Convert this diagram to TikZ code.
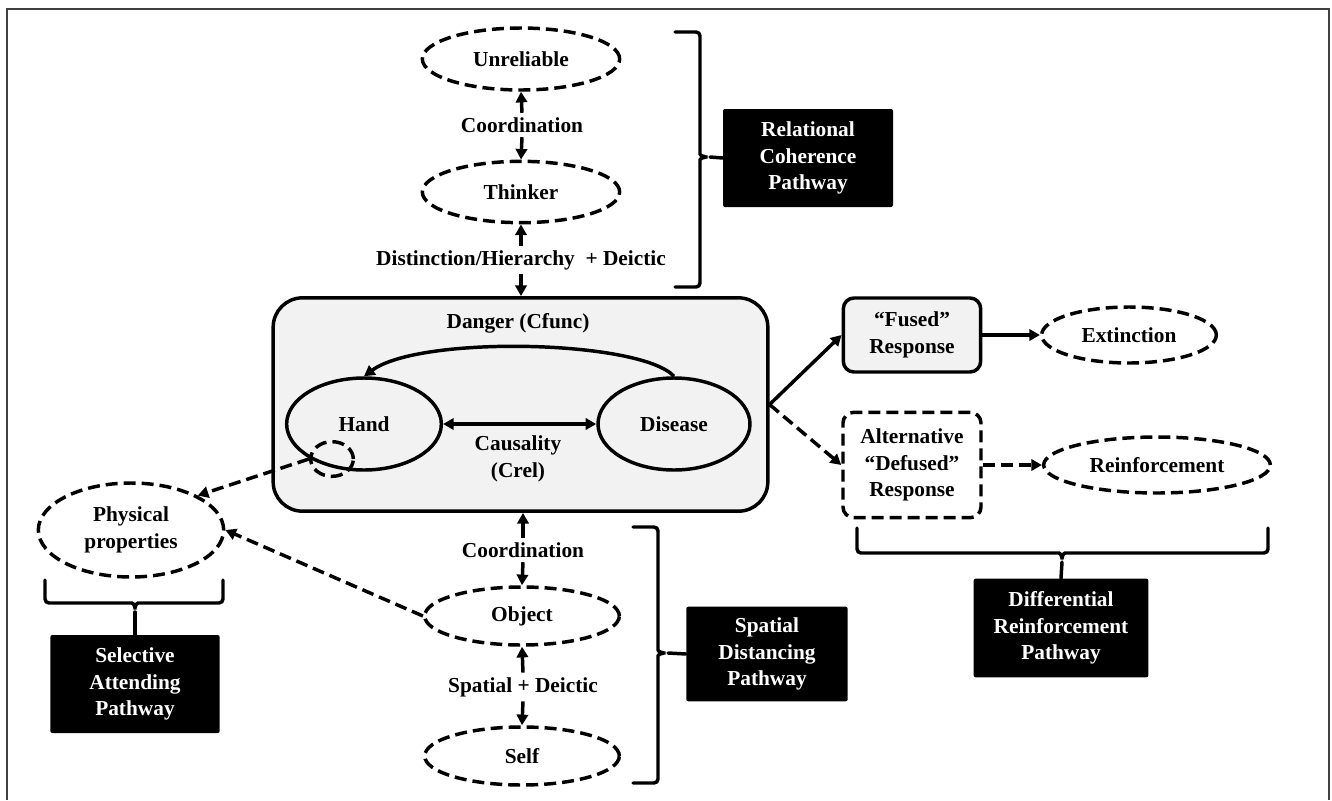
\documentclass[tikz,border=0pt]{standalone}
\usepackage{fontspec}
\setmainfont{Liberation Serif}
\usetikzlibrary{arrows.meta,shapes.geometric}
\definecolor{acikgri}{gray}{0.95}

\tikzset{
  kalin/.style={line width=2.6pt},
  kesikcizgi/.style={dash pattern=on 9pt off 4.5pt},
  elips/.style={ellipse, draw, kalin, inner sep=0pt, align=center},
  kesikelips/.style={elips, kesikcizgi},
  siyahkutu/.style={fill=black, text=white, rounded corners=1.5pt, inner sep=0pt, align=center},
  ok/.style={kalin, -{Triangle[length=8pt,width=8.5pt]}},
  kesikok/.style={ok, kesikcizgi},
  parantez/.style={kalin, rounded corners=3pt, line cap=round},
  cubuk/.style={kalin, line cap=round},
}

\begin{document}
\begin{tikzpicture}[x=0.75pt, y=-0.75pt, font=\fontsize{16}{20}\selectfont\bfseries]
  \useasboundingbox (0,0) rectangle (1332,800);
  % --- cerceve ---
  \draw[line width=1.5pt, black!75] (7,800) -- (7,9) -- (1329,9) -- (1329,800);

  % ---- 1) ust: iliskisel tutarlilik ----
  \node[kesikelips, minimum width=148pt, minimum height=46.5pt] (guvensiz) at (521,59) {Unreliable};
  \node (koord1) at (522,125) {Coordination};
  \node[kesikelips, minimum width=148pt, minimum height=46pt] (dusunen) at (521,192) {Thinker};
  \node (ayrim) at (521,260) {Distinction/Hierarchy\ \ + Deictic};
  \draw[ok] (koord1.north) -- (guvensiz.south);
  \draw[ok] (koord1.south) -- (dusunen.north);
  \draw[ok] (ayrim.north) -- (dusunen.south);

  \node[siyahkutu, minimum width=127.5pt, minimum height=73.5pt] (iliskisel) at (808,158)
    {Relational\\Coherence\\Pathway};
  \coordinate (ucust) at (710,157);
  \draw[parantez] (675,32) -- (700,32) -- (700,150)
    .. controls (700,155) and (703,157) .. (ucust)
    .. controls (703,157) and (700,159) .. (700,164) -- (700,287) -- (675,287);
  \draw[cubuk] (ucust) -- (iliskisel.west);

  % ---- 2) orta: tehlike kutusu ----
  \node[draw, kalin, fill=acikgri, rounded corners=22pt, minimum width=371pt, minimum height=160pt]
    (tehlike) at (520.5,404.5) {};
  \draw[ok] (ayrim.south) -- (ayrim.south |- tehlike.north);
  \node (tehlikeyazi) at (518,323) {Danger (Cfunc)};
  \node[elips, fill=acikgri, minimum width=116pt, minimum height=69pt] (el) at (364,424) {Hand};
  \node[elips, fill=acikgri, minimum width=114pt, minimum height=69pt] (hastalik) at (674,424) {Disease};
  \node[align=center] (nedensellik) at (518,459) {Causality\\(Crel)};
  \draw[kalin, {Triangle[length=8pt,width=8.5pt]}-{Triangle[length=8pt,width=8.5pt]}] (el.east) -- (hastalik.west);
  \draw[ok] (hastalik.north) .. controls (640,340) and (420,335) .. (el.north);
  \node[kesikelips, minimum width=32pt, minimum height=26pt] (kucuk) at (332,459) {};

  % ---- 3) sol: secici dikkat ----
  \node[kesikelips, minimum width=139pt, minimum height=70.5pt] (fiziksel) at (131,530)
    {Physical\\properties};
  \draw[kesikok] (kucuk.west) -- (fiziksel.north east);
  \node[siyahkutu, minimum width=127pt, minimum height=73.5pt] (secici) at (135,684)
    {Selective\\Attending\\Pathway};
  \coordinate (ucsol) at (135,612);
  \draw[parantez] (45,580) -- (45,603) -- (128,603)
    .. controls (133,603) and (135,605) .. (ucsol)
    .. controls (135,605) and (137,603) .. (142,603) -- (223,603) -- (223,580);
  \draw[cubuk] (ucsol) -- (secici.north);

  % ---- 4) alt: mekansal uzaklasma ----
  \node (koord2) at (523,550) {Coordination};
  \node[kesikelips, minimum width=146pt, minimum height=43.5pt] (nesne) at (522,616) {Object};
  \node (mekan) at (523,687) {Spatial + Deictic};
  \node[kesikelips, minimum width=146pt, minimum height=43.5pt] (benlik) at (522,756) {Self};
  \draw[ok] (koord2.north) -- (koord2.north |- tehlike.south);
  \draw[ok] (koord2.south) -- (nesne.north);
  \draw[ok] (mekan.north) -- (nesne.south);
  \draw[ok] (mekan.south) -- (benlik.north);
  \draw[kesikok] (nesne.west) -- (fiziksel.east);

  \node[siyahkutu, minimum width=121pt, minimum height=71pt] (mekansal) at (767,654)
    {Spatial\\Distancing\\Pathway};
  \coordinate (ucalt) at (668,653);
  \draw[parantez] (633,527) -- (658,527) -- (658,646)
    .. controls (658,651) and (661,653) .. (ucalt)
    .. controls (661,653) and (658,655) .. (658,660) -- (658,783) -- (633,783);
  \draw[cubuk] (ucalt) -- (mekansal.west);

  % ---- 5) sag: ayirici pekistirme ----
  \node[draw, kalin, fill=acikgri, rounded corners=8pt, minimum width=103pt, minimum height=55.5pt,
    align=center] (kaynasik) at (912,335) {``Fused''\\Response};
  \node[kesikelips, minimum width=131pt, minimum height=42pt] (sonme) at (1129,335) {Extinction};
  \node[draw, kalin, kesikcizgi, rounded corners=8pt, minimum width=103.5pt, minimum height=79pt,
    align=center] (alternatif) at (912,465) {Alternative\\``Defused''\\Response};
  \node[kesikelips, minimum width=170pt, minimum height=42pt] (pekistirme) at (1157,465) {Reinforcement};
  \draw[ok] (tehlike.east) -- (kaynasik.west);
  \draw[kesikok] (tehlike.east) -- (alternatif.west);
  \draw[ok] (kaynasik.east) -- (sonme.west);
  \draw[kesikok] (alternatif.east) -- (pekistirme.west);

  \node[siyahkutu, minimum width=131pt, minimum height=74pt] (ayirici) at (1061,628)
    {Differential\\Reinforcement\\Pathway};
  \coordinate (ucsag) at (1062,562);
  \draw[parantez] (857,528) -- (857,553) -- (1055,553)
    .. controls (1060,553) and (1062,555) .. (ucsag)
    .. controls (1062,555) and (1064,553) .. (1069,553) -- (1268,553) -- (1268,528);
  \draw[cubuk] (ucsag) -- (ayirici.north);
\end{tikzpicture}
\end{document}
